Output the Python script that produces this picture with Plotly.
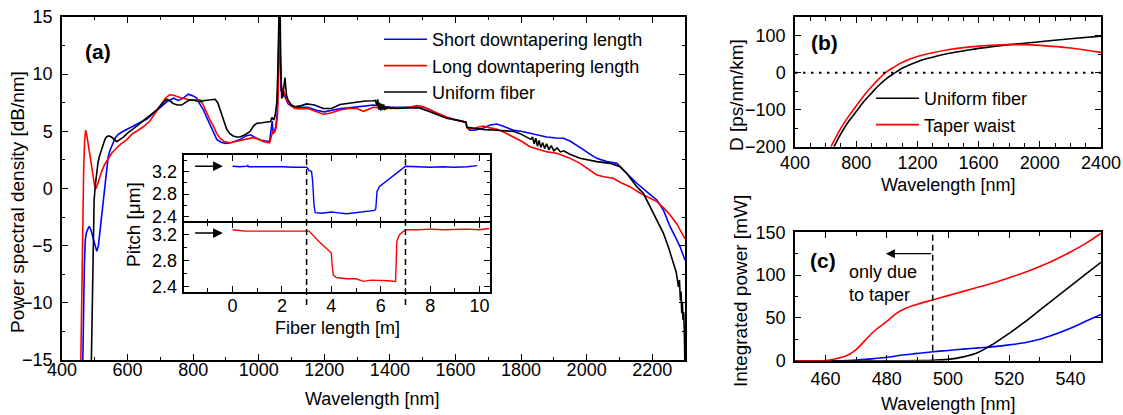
import plotly.graph_objects as go

W, H = 1123, 415

# ---------------- Panel (a) data ----------------
wl_short = [463, 465, 468, 471, 474, 478, 483, 488, 494, 500, 506, 511, 516, 521, 526, 531, 536, 541, 546, 554,
            562, 570, 580, 600, 620, 640, 660, 680, 700, 720, 740, 755, 770, 785, 800, 811, 820, 831, 840, 851,
            862, 872, 885, 900, 915, 930, 945, 960, 975, 990, 1005, 1020, 1033, 1038, 1041, 1044, 1048, 1052, 1056, 1059,
            1061, 1063, 1065, 1068, 1072, 1076, 1082, 1090, 1100, 1120, 1150, 1175, 1200, 1225, 1250, 1275, 1300, 1325, 1350, 1375,
            1400, 1450, 1500, 1522, 1548, 1573, 1600, 1624, 1632, 1635, 1644, 1659, 1685, 1706, 1726, 1750, 1777, 1800, 1827, 1850,
            1878, 1908, 1929, 1949, 1970, 1990, 2010, 2031, 2061, 2092, 2122, 2153, 2183, 2214, 2234, 2254, 2270, 2285, 2300]
psd_short = [-16, -12, -7, -4.5, -3.9, -3.6, -3.3, -3.6, -4.2, -5.0, -5.5, -5.0, -3.7, -2.2, -1.0, 0.5, 1.9, 2.8, 3.3, 3.9,
             4.4, 4.7, 4.9, 5.2, 5.5, 5.8, 6.1, 6.6, 7.1, 7.6, 7.9, 7.7, 7.9, 8.25, 8.1, 7.9, 7.4, 6.9, 6.3, 5.6,
             4.9, 4.3, 4.05, 3.95, 4.0, 4.15, 4.3, 4.6, 4.7, 4.45, 4.25, 4.15, 4.1, 5.2, 5.9, 4.8, 5.0, 5.4, 6.5, 9,
             13, 16, 12, 8.5, 8.7, 8.2, 7.9, 7.4, 7.2, 7.1, 7.1, 6.85, 6.7, 6.85, 7.0, 7.05, 7.15, 7.2, 7.3, 7.2,
             7.1, 7.1, 7.15, 6.9, 6.5, 6.2, 6.0, 5.84, 5.8, 5.35, 5.1, 5.1, 5.3, 5.55, 5.64, 5.4, 5.1, 5.0, 4.83, 4.7,
             4.5, 4.42, 4.4, 4.15, 3.8, 3.4, 3.0, 2.64, 2.35, 2.2, 1.33, 0.46, -0.27, -1.0, -1.88, -3.3, -4.2, -5.1, -6.25]

wl_long = [457, 460, 463, 466, 469, 472, 476, 480, 484, 488, 492, 496, 500, 504, 508, 514, 521, 530, 541, 552,
           565, 580, 597, 615, 630, 648, 668, 685, 700, 715, 728, 740, 760, 775, 790, 805, 821, 831, 841, 851,
           861, 872, 882, 895, 912, 930, 945, 965, 983, 1000, 1015, 1033, 1040, 1044, 1048, 1053, 1057, 1060, 1062, 1064,
           1066, 1069, 1073, 1078, 1085, 1095, 1110, 1130, 1150, 1175, 1197, 1220, 1248, 1275, 1299, 1320, 1349, 1375, 1400, 1430,
           1460, 1482, 1502, 1522, 1548, 1573, 1600, 1624, 1632, 1635, 1654, 1668, 1685, 1705, 1726, 1750, 1777, 1800, 1827, 1858,
           1880, 1909, 1945, 1980, 2005, 2031, 2056, 2081, 2105, 2132, 2160, 2183, 2214, 2235, 2254, 2275, 2295, 2300]
psd_long = [-16, -10, -3, 1.5, 4.2, 5.1, 4.6, 3.8, 3.3, 2.3, 1.3, 0.6, 0.15, 0.0, 0.4, 0.9, 1.5, 2.1, 2.6, 3.1,
            3.5, 3.9, 4.25, 4.8, 5.05, 5.4, 5.9, 6.6, 7.3, 7.9, 8.2, 8.15, 7.95, 7.85, 7.75, 7.75, 7.75, 7.3, 6.6, 6.0,
            5.5, 4.8, 4.4, 4.1, 4.0, 4.1, 4.2, 4.35, 4.45, 4.3, 4.1, 4.0, 4.6, 5.1, 4.9, 5.3, 6.3, 9, 14, 16,
            12, 9, 8.6, 8.4, 7.8, 7.3, 7.0, 6.95, 7.0, 6.75, 6.5, 6.6, 6.87, 7.0, 7.0, 6.75, 7.1, 7.05, 7.0, 7.05,
            7.1, 7.25, 7.15, 6.87, 6.55, 6.25, 6.0, 5.84, 5.8, 5.3, 5.18, 5.35, 5.47, 5.3, 5.18, 4.9, 4.53, 4.15, 3.66, 3.37,
            3.2, 3.08, 2.7, 2.2, 1.7, 1.18, 1.0, 0.89, 0.5, 0.16, -0.35, -0.72, -1.15, -1.7, -2.3, -3.1, -4.2, -4.4]

wl_unif = [489, 491, 493, 495, 498, 502, 506, 510, 514, 520, 526, 531, 536, 543, 551, 559, 567, 577, 587, 600,
           617, 632, 648, 668, 689, 705, 719, 730, 739, 752, 765, 778, 790, 805, 821, 835, 850, 867, 875, 882,
           892, 902, 912, 922, 933, 943, 958, 973, 985, 994, 1010, 1029, 1036, 1040, 1046, 1050, 1055, 1058, 1061, 1063,
           1065, 1067, 1070, 1073, 1077, 1080, 1082, 1085, 1090, 1100, 1110, 1130, 1146, 1170, 1197, 1222, 1248, 1275, 1299, 1325,
           1349, 1356, 1360, 1363, 1366, 1369, 1372, 1375, 1378, 1381, 1384, 1387, 1390, 1395, 1400, 1420, 1450, 1490, 1522, 1548,
           1573, 1600, 1624, 1632, 1635, 1654, 1690, 1726, 1777, 1797, 1817, 1830, 1835, 1840, 1845, 1850, 1855, 1860, 1866, 1872,
           1878, 1885, 1892, 1900, 1910, 1920, 1930, 1949, 1980, 2031, 2071, 2102, 2122, 2140, 2153, 2173, 2193, 2214, 2234, 2249,
           2264, 2273, 2280, 2283, 2286, 2288, 2290, 2292, 2294, 2296, 2298, 2300]
psd_unif = [-16, -12, -7, -3.5, -1.0, 0.4, 1.6, 2.3, 2.8, 3.4, 3.95, 4.3, 4.53, 4.6, 4.5, 4.3, 4.1, 4.3, 4.5, 4.85,
            5.2, 5.55, 5.93, 6.4, 6.87, 7.4, 7.8, 7.65, 7.44, 7.3, 7.3, 7.55, 7.75, 7.7, 7.6, 7.7, 7.75, 7.8, 7.5, 6.87,
            5.9, 5.2, 4.8, 4.6, 4.5, 4.5, 4.7, 4.97, 5.5, 5.7, 5.75, 5.8, 5.85, 6.2, 6.0, 6.4, 7.5, 10, 15, 17,
            16.5, 11, 7.9, 8.0, 8.8, 9.7, 9.0, 8.1, 7.7, 7.3, 7.15, 7.25, 7.4, 7.3, 7.0, 7.0, 7.35, 7.45, 7.6, 7.65,
            7.68, 7.7, 7.3, 7.8, 6.9, 7.5, 6.8, 7.4, 6.9, 7.35, 6.85, 7.2, 6.95, 7.15, 7.05, 7.0, 7.05, 7.05, 6.72, 6.45,
            6.14, 6.0, 5.84, 5.8, 5.35, 5.27, 5.15, 5.1, 5.0, 4.8, 4.53, 4.3, 4.5, 3.9, 4.4, 3.7, 4.2, 3.6, 4.0, 3.5,
            3.9, 3.4, 3.75, 3.3, 3.55, 3.2, 3.3, 3.0, 2.64, 2.35, 2.2, 1.9, 1.33, 0.7, 0.16, -0.42, -1.6, -2.75, -3.9, -5.1,
            -6.5, -7.3, -8.6, -8.0, -9.8, -9.0, -10.9, -10.0, -11.5, -10.8, -12.5, -16]

# ---------------- Inset data ----------------
len_short = [0, 0.3, 0.6, 0.62, 0.65, 1.0, 1.5, 2.0, 2.5, 2.9, 3.0, 3.05, 3.1, 3.2, 3.25, 3.3, 3.35, 3.6, 3.8, 4.0,
             4.2, 4.4, 4.6, 4.8, 5.0, 5.2, 5.5, 5.75, 5.8, 5.85, 5.95, 6.2, 6.5, 6.8, 7.0, 7.3, 7.6, 8.0, 8.5, 9.0,
             9.5, 9.9]
pitch_short = [3.30, 3.29, 3.30, 3.32, 3.29, 3.29, 3.30, 3.29, 3.28, 3.27, 3.28, 3.26, 3.22, 3.21, 3.0, 2.6, 2.47, 2.46, 2.47, 2.48,
               2.47, 2.46, 2.45, 2.46, 2.47, 2.48, 2.49, 2.51, 2.54, 2.85, 2.94, 3.03, 3.13, 3.23, 3.30, 3.29, 3.28, 3.28, 3.29, 3.28,
               3.29, 3.31]

len_long = [0, 0.5, 1.0, 1.5, 2.0, 2.5, 3.0, 3.1, 3.5, 3.9, 4.0, 4.03, 4.08, 4.2, 4.6, 5.0, 5.3, 5.6, 6.0, 6.3,
            6.6, 6.65, 6.75, 7.0, 7.5, 8.0, 8.5, 9.0, 9.5, 10.0, 10.4]
pitch_long = [3.28, 3.26, 3.26, 3.26, 3.27, 3.26, 3.27, 3.26, 3.10, 2.96, 2.92, 2.75, 2.58, 2.54, 2.52, 2.52, 2.48, 2.50, 2.50, 2.49,
              2.48, 3.10, 3.20, 3.28, 3.28, 3.29, 3.28, 3.29, 3.29, 3.28, 3.30]

# ---------------- Panel (b) data ----------------
wl_d_unif = [655, 700, 750, 800, 850, 900, 950, 1000, 1050, 1100, 1200, 1300, 1400, 1500, 1600, 1700, 1800, 2000, 2200, 2400]
d_unif = [-200, -165, -132, -105, -78, -55, -33, -15, -1, 12, 30, 42, 52, 59, 66, 71, 76, 84, 92, 99]
wl_d_taper = [635, 700, 750, 800, 850, 900, 950, 1000, 1050, 1100, 1200, 1300, 1400, 1500, 1600, 1700, 1800, 1900, 2000, 2200, 2400]
d_taper = [-200, -150, -118, -90, -62, -38, -16, 3, 16, 28, 44, 54, 62, 68, 72, 75, 76, 76, 74, 67, 55]

# ---------------- Panel (c) data ----------------
wl_c = [450, 455, 460, 463, 467, 470, 473, 476, 480, 483, 486, 490, 495, 500, 505, 510, 515, 520, 525, 530, 535, 540, 545, 550]
ip_long = [0, 0, 0.3, 2, 6, 13, 24, 35, 46, 55, 61, 66, 71, 76, 81, 86, 91, 97, 103, 110, 118, 127, 137, 149]
ip_short = [0, 0, 0, 0, 0.3, 0.8, 1.5, 2.5, 4, 5.5, 7, 8.5, 10.5, 12, 13.5, 15, 16.5, 18.5, 21, 25, 31, 38, 46, 54]
ip_unif = [0, 0, 0, 0, 0, 0, 0, 0, 0, 0, 0, 0.2, 0.6, 1.5, 4.5, 10, 20, 32, 45, 59, 73, 87, 101, 115]

BLUE, RED, BLACK = "#0000FF", "#FF0000", "#000000"
FONT = "Liberation Sans, Arial, sans-serif"

def px_x(p):
    return p / W

def px_y(p):
    return 1 - p / H

fig = go.Figure()

lw = 1.6
fig.add_trace(go.Scatter(x=wl_short, y=psd_short, mode="lines", line=dict(color=BLUE, width=lw),
                         name="Short downtapering length", xaxis="x", yaxis="y", legend="legend"))
fig.add_trace(go.Scatter(x=wl_long, y=psd_long, mode="lines", line=dict(color=RED, width=lw),
                         name="Long downtapering length", xaxis="x", yaxis="y", legend="legend"))
fig.add_trace(go.Scatter(x=wl_unif, y=psd_unif, mode="lines", line=dict(color=BLACK, width=lw),
                         name="Uniform fiber", xaxis="x", yaxis="y", legend="legend"))

fig.add_trace(go.Scatter(x=len_short, y=pitch_short, mode="lines", line=dict(color=BLUE, width=1.4),
                         showlegend=False, xaxis="x2", yaxis="y2"))
fig.add_trace(go.Scatter(x=len_long, y=pitch_long, mode="lines", line=dict(color=RED, width=1.4),
                         showlegend=False, xaxis="x3", yaxis="y3"))

fig.add_trace(go.Scatter(x=wl_d_unif, y=d_unif, mode="lines", line=dict(color=BLACK, width=lw, shape="spline"),
                         name="Uniform fiber", xaxis="x4", yaxis="y4", legend="legend2"))
fig.add_trace(go.Scatter(x=wl_d_taper, y=d_taper, mode="lines", line=dict(color=RED, width=lw, shape="spline"),
                         name="Taper waist", xaxis="x4", yaxis="y4", legend="legend2"))

fig.add_trace(go.Scatter(x=wl_c, y=ip_short, mode="lines", line=dict(color=BLUE, width=lw, shape="spline"),
                         showlegend=False, xaxis="x5", yaxis="y5"))
fig.add_trace(go.Scatter(x=wl_c, y=ip_unif, mode="lines", line=dict(color=BLACK, width=lw, shape="spline"),
                         showlegend=False, xaxis="x5", yaxis="y5"))
fig.add_trace(go.Scatter(x=wl_c, y=ip_long, mode="lines", line=dict(color=RED, width=lw, shape="spline"),
                         showlegend=False, xaxis="x5", yaxis="y5"))

tickfont = dict(family=FONT, size=18, color="black")

def ax(domain, rng, dtick, minor_dtick, anchor, tick0=0, showlabels=True, standoff=None, tickvals=None):
    d = dict(domain=domain, range=rng, anchor=anchor, showline=True, linecolor="black", linewidth=1.5,
             mirror="ticks", ticks="inside", ticklen=6, tickwidth=1.3, tickcolor="black",
             showgrid=False, zeroline=False, tickfont=tickfont, showticklabels=showlabels, automargin=False,
             minor=dict(dtick=minor_dtick, tick0=tick0, ticks="inside", ticklen=3.5, tickwidth=1.2,
                        tickcolor="black", showgrid=False))
    if tickvals is not None:
        d["tickmode"] = "array"
        d["tickvals"] = tickvals
    else:
        d["dtick"] = dtick
        d["tick0"] = tick0
    if standoff is not None:
        d["ticklabelstandoff"] = standoff
    return d

xa = [px_x(62), px_x(685)]
ya = [px_y(360), px_y(17)]
xi = [px_x(183.5), px_x(490)]
yi_top = [px_y(222.7), px_y(155)]
yi_bot = [px_y(291.7), px_y(222.7)]
xb = [px_x(795), px_x(1101)]
yb = [px_y(146.7), px_y(17.3)]
yc = [px_y(360.7), px_y(232.3)]

fig.update_layout(
    width=W, height=H,
    margin=dict(l=0, r=0, t=0, b=0, pad=0, autoexpand=False),
    paper_bgcolor="white", plot_bgcolor="white",
    font=dict(family=FONT, size=18, color="black"),
    xaxis=ax(xa, [400, 2300], 200, 100, "y", standoff=-7),
    yaxis=ax(ya, [-15, 15], 5, 2.5, "x", standoff=4),
    xaxis2=ax(xi, [-1.98, 10.42], 2, 1, "y2", showlabels=False),
    yaxis2=ax(yi_top, [2.29, 3.50], None, 0.2, "x2", tick0=2.4, standoff=1, tickvals=[2.4, 2.8, 3.2]),
    xaxis3=ax(xi, [-1.98, 10.42], None, 1, "y3", standoff=-3, tickvals=[0, 2, 4, 6, 8, 10]),
    yaxis3=ax(yi_bot, [2.32, 3.39], None, 0.2, "x3", tick0=2.4, standoff=1, tickvals=[2.4, 2.8, 3.2]),
    xaxis4=ax(xb, [400, 2400], 400, 100, "y4", standoff=-1),
    yaxis4=ax(yb, [-200, 150], 100, 50, "x4", standoff=4),
    xaxis5=ax(xb, [450, 550], 20, 10, "y5", standoff=1),
    yaxis5=ax(yc, [0, 150], 50, 25, "x5", standoff=4),
    legend=dict(x=px_x(379), y=px_y(21), xanchor="left", yanchor="top", bgcolor="rgba(0,0,0,0)",
                font=dict(family=FONT, size=18), tracegroupgap=0, itemwidth=43),
    legend2=dict(x=px_x(871), y=px_y(80), xanchor="left", yanchor="top", bgcolor="rgba(0,0,0,0)",
                 font=dict(family=FONT, size=18), tracegroupgap=0, itemwidth=43),
    showlegend=True,
)

shapes = []
# inset dashed lines at 3 m and 7 m
for xv in [3, 7]:
    shapes.append(dict(type="line", xref="x3", yref="paper", x0=xv, x1=xv, y0=px_y(305), y1=px_y(155),
                       line=dict(color="black", width=1.5, dash="6px,4px")))
# (b) zero line
shapes.append(dict(type="line", xref="x4", yref="y4", x0=400, x1=2400, y0=0, y1=0,
                   line=dict(color="black", width=2, dash="2.5px,5.5px")))
# (c) dashed line at 495 nm
shapes.append(dict(type="line", xref="x5", yref="y5", x0=495, x1=495, y0=0, y1=150,
                   line=dict(color="black", width=1.5, dash="6px,4px")))
fig.update_layout(shapes=shapes)

ann = []
def text(x, y, s, size=18, bold=False, angle=0, xanchor="center", yanchor="middle", align="center"):
    if bold:
        s = "<b>" + s + "</b>"
    ann.append(dict(x=px_x(x), y=px_y(y), xref="paper", yref="paper", text=s, showarrow=False,
                    font=dict(family=FONT, size=size, color="black"), textangle=angle,
                    xanchor=xanchor, yanchor=yanchor, align=align))

text(18, 202, "Power spectral density [dB/nm]", size=19, angle=-90)
text(372, 399, "Wavelength [nm]")
text(133.5, 224.5, "Pitch [μm]", size=19, angle=-90)
text(337, 328, "Fiber length [m]")
text(737, 95, "D [ps/nm/km]", size=19, angle=-90)
text(948, 185, "Wavelength [nm]")
text(740, 291, "Integrated power [mW]", size=19, angle=-90)
text(948, 404, "Wavelength [nm]")
text(98, 52, "(a)", size=21, bold=True)
text(824.5, 42, "(b)", size=21, bold=True)
text(823, 260, "(c)", size=21, bold=True)
text(847, 283.5, "only due<br>to taper", xanchor="left", align="left")

# arrows
ann.append(dict(x=-0.39, y=3.30, ax=-1.57, ay=3.30, xref="x2", yref="y2", axref="x2", ayref="y2",
                showarrow=True, arrowhead=2, arrowsize=1.3, arrowwidth=1.5, arrowcolor="black", text=""))
ann.append(dict(x=-0.39, y=3.23, ax=-1.57, ay=3.23, xref="x3", yref="y3", axref="x3", ayref="y3",
                showarrow=True, arrowhead=2, arrowsize=1.3, arrowwidth=1.5, arrowcolor="black", text=""))
ann.append(dict(x=479.7, y=125, ax=495, ay=125, xref="x5", yref="y5", axref="x5", ayref="y5",
                showarrow=True, arrowhead=2, arrowsize=1.5, arrowwidth=1.2, arrowcolor="black", text=""))
fig.update_layout(annotations=ann)

fig.write_html("out.html", config={"displayModeBar": False},
               post_script="document.body.style.margin='0px';document.body.style.overflow='hidden';")
